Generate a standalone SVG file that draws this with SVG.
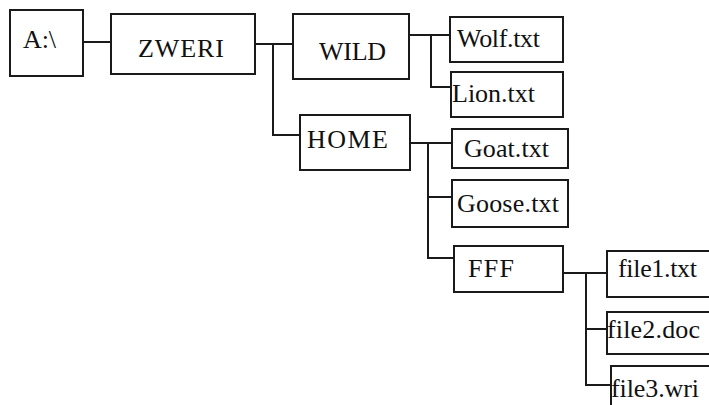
<svg xmlns="http://www.w3.org/2000/svg" width="709" height="405" viewBox="0 0 709 405">
  <style>
    .box { fill: #fff; stroke: #1a1a1a; stroke-width: 2; }
    .lbl { font-family: "Liberation Serif", "Times New Roman", serif; font-size: 26px; fill: #111; }
    .wire { fill: none; stroke: #1a1a1a; stroke-width: 2; }
  </style>
  <rect width="709" height="405" fill="#fff"/>

  <!-- tree connectors -->
  <g id="connectors">
    <path class="wire" d="M83 42 H111"/>
    <path class="wire" d="M255 44 H293 M273 44 V135 H300"/>
    <path class="wire" d="M409 35 H450 M431 35 V87 H451"/>
    <path class="wire" d="M410 143 H452 M428 143 V258 H454 M428 197 H452"/>
    <path class="wire" d="M563 273 H608 M586 273 V385 H611 M586 329 H607"/>
  </g>

  <g id="node-root">
    <rect class="box" x="10" y="10" width="73" height="66"/>
    <text class="lbl" x="23" y="48" textLength="33" lengthAdjust="spacing">A:\</text>
  </g>
  <g id="node-zweri">
    <rect class="box" x="111" y="14" width="144" height="60"/>
    <text class="lbl" x="138" y="57" textLength="86" lengthAdjust="spacing">ZWERI</text>
  </g>
  <g id="node-wild">
    <rect class="box" x="293" y="14" width="116" height="65"/>
    <text class="lbl" x="319" y="60" textLength="67" lengthAdjust="spacing">WILD</text>
  </g>
  <g id="node-wolf">
    <rect class="box" x="450" y="17" width="113" height="45"/>
    <text class="lbl" x="457" y="47" textLength="83" lengthAdjust="spacing">Wolf.txt</text>
  </g>
  <g id="node-lion">
    <rect class="box" x="451" y="72" width="112" height="45"/>
    <text class="lbl" x="452" y="102" textLength="83" lengthAdjust="spacing">Lion.txt</text>
  </g>
  <g id="node-home">
    <rect class="box" x="300" y="115" width="110" height="55"/>
    <text class="lbl" x="307" y="148" textLength="81" lengthAdjust="spacing">HOME</text>
  </g>
  <g id="node-goat">
    <rect class="box" x="452" y="129" width="116" height="39"/>
    <text class="lbl" x="464" y="157" textLength="85" lengthAdjust="spacing">Goat.txt</text>
  </g>
  <g id="node-goose">
    <rect class="box" x="452" y="180" width="116" height="47"/>
    <text class="lbl" x="457" y="212" textLength="102" lengthAdjust="spacing">Goose.txt</text>
  </g>
  <g id="node-fff">
    <rect class="box" x="454" y="246" width="109" height="46"/>
    <text class="lbl" x="468" y="277" textLength="46" lengthAdjust="spacing">FFF</text>
  </g>
  <g id="node-file1">
    <rect class="box" x="607" y="251" width="110" height="46"/>
    <text class="lbl" x="618" y="277" textLength="79" lengthAdjust="spacing">file1.txt</text>
  </g>
  <g id="node-file2">
    <rect class="box" x="607" y="312" width="110" height="42"/>
    <text class="lbl" x="607" y="338" textLength="93" lengthAdjust="spacing">file2.doc</text>
  </g>
  <g id="node-file3">
    <rect class="box" x="611" y="366" width="110" height="50"/>
    <text class="lbl" x="611" y="397" textLength="88" lengthAdjust="spacing">file3.wri</text>
  </g>
</svg>
